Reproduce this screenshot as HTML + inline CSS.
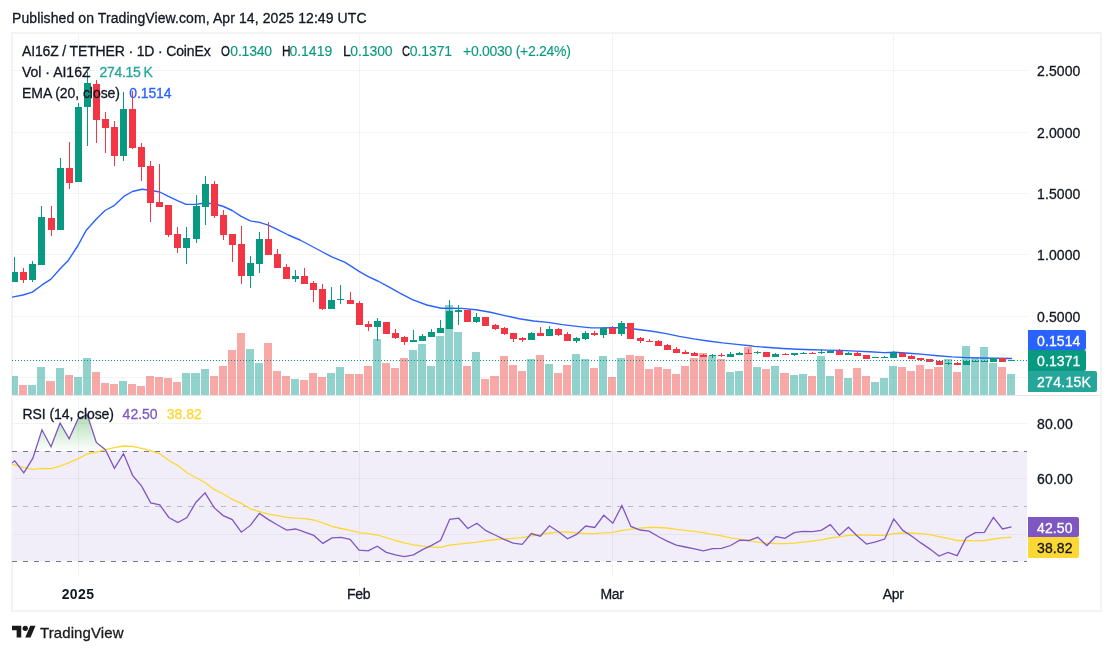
<!DOCTYPE html>
<html><head><meta charset="utf-8"><title>AI16Z / TETHER chart</title>
<style>
html,body{margin:0;padding:0;background:#fff}
#c{position:relative;width:1113px;height:653px;overflow:hidden;background:#fff;font-family:"Liberation Sans",sans-serif}
#t{position:absolute;left:0;top:0;width:1113px;height:653px;will-change:transform}
#c span{position:absolute;white-space:pre;line-height:1.149;-webkit-text-stroke:0.3px currentColor}
</style></head><body><div id="c">
<svg width="1113" height="653" viewBox="0 0 1113 653" style="position:absolute;left:0;top:0">
<defs><linearGradient id="ob" gradientUnits="userSpaceOnUse" x1="0" y1="369" x2="0" y2="451.5"><stop offset="0" stop-color="#4caf50" stop-opacity="1"/><stop offset="1" stop-color="#4caf50" stop-opacity="0"/></linearGradient>
<clipPath id="cm"><rect x="12" y="34" width="1015" height="361"/></clipPath><clipPath id="cr"><rect x="12" y="396" width="1015" height="181"/></clipPath><clipPath id="c70"><rect x="12" y="396" width="1015" height="55.5"/></clipPath></defs>
<g shape-rendering="crispEdges">
<rect x="12" y="33" width="1089" height="578" fill="none" stroke="#f3f3f3" stroke-width="2"/>
<rect x="13" y="451" width="1014" height="110" fill="#f2eef9"/>
<rect x="78" y="34" width="1" height="543" fill="rgba(42,46,57,0.06)"/>
<rect x="359" y="34" width="1" height="543" fill="rgba(42,46,57,0.06)"/>
<rect x="612" y="34" width="1" height="543" fill="rgba(42,46,57,0.06)"/>
<rect x="893" y="34" width="1" height="543" fill="rgba(42,46,57,0.06)"/>
<rect x="13" y="70" width="1014" height="1" fill="rgba(42,46,57,0.06)"/>
<rect x="13" y="132" width="1014" height="1" fill="rgba(42,46,57,0.06)"/>
<rect x="13" y="193" width="1014" height="1" fill="rgba(42,46,57,0.06)"/>
<rect x="13" y="254" width="1014" height="1" fill="rgba(42,46,57,0.06)"/>
<rect x="13" y="316" width="1014" height="1" fill="rgba(42,46,57,0.06)"/>
<rect x="13" y="377" width="1014" height="1" fill="rgba(42,46,57,0.06)"/>
<rect x="13" y="423" width="1014" height="1" fill="rgba(42,46,57,0.06)"/>
<rect x="13" y="478" width="1014" height="1" fill="rgba(42,46,57,0.06)"/>
<rect x="13" y="534" width="1014" height="1" fill="rgba(42,46,57,0.06)"/>
<rect x="13" y="395" width="1087" height="1" fill="#e4e5e8"/>
</g>
<g shape-rendering="crispEdges" clip-path="url(#cm)">
<rect x="10" y="376" width="8" height="19" fill="rgba(38,166,154,0.5)"/>
<rect x="19" y="385" width="8" height="10" fill="rgba(239,83,80,0.5)"/>
<rect x="28" y="385" width="8" height="10" fill="rgba(38,166,154,0.5)"/>
<rect x="37" y="367" width="8" height="28" fill="rgba(38,166,154,0.5)"/>
<rect x="46" y="381" width="9" height="14" fill="rgba(239,83,80,0.5)"/>
<rect x="56" y="368" width="8" height="27" fill="rgba(38,166,154,0.5)"/>
<rect x="65" y="375" width="8" height="20" fill="rgba(239,83,80,0.5)"/>
<rect x="74" y="377" width="8" height="18" fill="rgba(38,166,154,0.5)"/>
<rect x="83" y="358" width="8" height="37" fill="rgba(38,166,154,0.5)"/>
<rect x="92" y="372" width="8" height="23" fill="rgba(239,83,80,0.5)"/>
<rect x="101" y="383" width="8" height="12" fill="rgba(239,83,80,0.5)"/>
<rect x="110" y="384" width="8" height="11" fill="rgba(239,83,80,0.5)"/>
<rect x="119" y="381" width="8" height="14" fill="rgba(38,166,154,0.5)"/>
<rect x="128" y="384" width="8" height="11" fill="rgba(239,83,80,0.5)"/>
<rect x="137" y="386" width="8" height="9" fill="rgba(239,83,80,0.5)"/>
<rect x="146" y="376" width="8" height="19" fill="rgba(239,83,80,0.5)"/>
<rect x="155" y="377" width="8" height="18" fill="rgba(239,83,80,0.5)"/>
<rect x="164" y="378" width="8" height="17" fill="rgba(239,83,80,0.5)"/>
<rect x="173" y="382" width="8" height="13" fill="rgba(239,83,80,0.5)"/>
<rect x="182" y="373" width="8" height="22" fill="rgba(38,166,154,0.5)"/>
<rect x="191" y="373" width="9" height="22" fill="rgba(38,166,154,0.5)"/>
<rect x="201" y="369" width="8" height="26" fill="rgba(38,166,154,0.5)"/>
<rect x="210" y="376" width="8" height="19" fill="rgba(239,83,80,0.5)"/>
<rect x="219" y="366" width="8" height="29" fill="rgba(239,83,80,0.5)"/>
<rect x="228" y="350" width="8" height="45" fill="rgba(239,83,80,0.5)"/>
<rect x="237" y="333" width="8" height="62" fill="rgba(239,83,80,0.5)"/>
<rect x="246" y="349" width="8" height="46" fill="rgba(38,166,154,0.5)"/>
<rect x="255" y="363" width="8" height="32" fill="rgba(38,166,154,0.5)"/>
<rect x="264" y="343" width="8" height="52" fill="rgba(239,83,80,0.5)"/>
<rect x="273" y="371" width="8" height="24" fill="rgba(239,83,80,0.5)"/>
<rect x="282" y="376" width="8" height="19" fill="rgba(239,83,80,0.5)"/>
<rect x="291" y="379" width="8" height="16" fill="rgba(38,166,154,0.5)"/>
<rect x="300" y="380" width="8" height="15" fill="rgba(239,83,80,0.5)"/>
<rect x="309" y="373" width="8" height="22" fill="rgba(239,83,80,0.5)"/>
<rect x="318" y="377" width="8" height="18" fill="rgba(239,83,80,0.5)"/>
<rect x="327" y="373" width="8" height="22" fill="rgba(38,166,154,0.5)"/>
<rect x="336" y="367" width="8" height="28" fill="rgba(38,166,154,0.5)"/>
<rect x="345" y="374" width="9" height="21" fill="rgba(239,83,80,0.5)"/>
<rect x="355" y="374" width="8" height="21" fill="rgba(239,83,80,0.5)"/>
<rect x="364" y="366" width="8" height="29" fill="rgba(239,83,80,0.5)"/>
<rect x="373" y="339" width="8" height="56" fill="rgba(38,166,154,0.5)"/>
<rect x="382" y="363" width="8" height="32" fill="rgba(239,83,80,0.5)"/>
<rect x="391" y="368" width="8" height="27" fill="rgba(239,83,80,0.5)"/>
<rect x="400" y="358" width="8" height="37" fill="rgba(239,83,80,0.5)"/>
<rect x="409" y="350" width="8" height="45" fill="rgba(38,166,154,0.5)"/>
<rect x="418" y="344" width="8" height="51" fill="rgba(38,166,154,0.5)"/>
<rect x="427" y="366" width="8" height="29" fill="rgba(38,166,154,0.5)"/>
<rect x="436" y="336" width="8" height="59" fill="rgba(38,166,154,0.5)"/>
<rect x="445" y="305" width="8" height="90" fill="rgba(38,166,154,0.5)"/>
<rect x="454" y="332" width="8" height="63" fill="rgba(38,166,154,0.5)"/>
<rect x="463" y="366" width="8" height="29" fill="rgba(239,83,80,0.5)"/>
<rect x="472" y="352" width="8" height="43" fill="rgba(38,166,154,0.5)"/>
<rect x="481" y="379" width="8" height="16" fill="rgba(239,83,80,0.5)"/>
<rect x="490" y="376" width="9" height="19" fill="rgba(239,83,80,0.5)"/>
<rect x="500" y="356" width="8" height="39" fill="rgba(239,83,80,0.5)"/>
<rect x="509" y="365" width="8" height="30" fill="rgba(239,83,80,0.5)"/>
<rect x="518" y="371" width="8" height="24" fill="rgba(239,83,80,0.5)"/>
<rect x="527" y="359" width="8" height="36" fill="rgba(38,166,154,0.5)"/>
<rect x="536" y="355" width="8" height="40" fill="rgba(239,83,80,0.5)"/>
<rect x="545" y="364" width="8" height="31" fill="rgba(38,166,154,0.5)"/>
<rect x="554" y="373" width="8" height="22" fill="rgba(239,83,80,0.5)"/>
<rect x="563" y="365" width="8" height="30" fill="rgba(239,83,80,0.5)"/>
<rect x="572" y="354" width="8" height="41" fill="rgba(38,166,154,0.5)"/>
<rect x="581" y="359" width="8" height="36" fill="rgba(38,166,154,0.5)"/>
<rect x="590" y="368" width="8" height="27" fill="rgba(239,83,80,0.5)"/>
<rect x="599" y="356" width="8" height="39" fill="rgba(38,166,154,0.5)"/>
<rect x="608" y="377" width="8" height="18" fill="rgba(239,83,80,0.5)"/>
<rect x="617" y="358" width="8" height="37" fill="rgba(38,166,154,0.5)"/>
<rect x="626" y="355" width="8" height="40" fill="rgba(239,83,80,0.5)"/>
<rect x="635" y="356" width="9" height="39" fill="rgba(239,83,80,0.5)"/>
<rect x="645" y="369" width="8" height="26" fill="rgba(239,83,80,0.5)"/>
<rect x="654" y="367" width="8" height="28" fill="rgba(239,83,80,0.5)"/>
<rect x="663" y="369" width="8" height="26" fill="rgba(239,83,80,0.5)"/>
<rect x="672" y="374" width="8" height="21" fill="rgba(239,83,80,0.5)"/>
<rect x="681" y="366" width="8" height="29" fill="rgba(239,83,80,0.5)"/>
<rect x="690" y="358" width="8" height="37" fill="rgba(239,83,80,0.5)"/>
<rect x="699" y="353" width="8" height="42" fill="rgba(239,83,80,0.5)"/>
<rect x="708" y="356" width="8" height="39" fill="rgba(38,166,154,0.5)"/>
<rect x="717" y="359" width="8" height="36" fill="rgba(239,83,80,0.5)"/>
<rect x="726" y="372" width="8" height="23" fill="rgba(38,166,154,0.5)"/>
<rect x="735" y="371" width="8" height="24" fill="rgba(38,166,154,0.5)"/>
<rect x="744" y="347" width="8" height="48" fill="rgba(239,83,80,0.5)"/>
<rect x="753" y="367" width="8" height="28" fill="rgba(38,166,154,0.5)"/>
<rect x="762" y="369" width="8" height="26" fill="rgba(239,83,80,0.5)"/>
<rect x="771" y="366" width="8" height="29" fill="rgba(38,166,154,0.5)"/>
<rect x="780" y="373" width="9" height="22" fill="rgba(239,83,80,0.5)"/>
<rect x="790" y="375" width="8" height="20" fill="rgba(38,166,154,0.5)"/>
<rect x="799" y="374" width="8" height="21" fill="rgba(38,166,154,0.5)"/>
<rect x="808" y="376" width="8" height="19" fill="rgba(239,83,80,0.5)"/>
<rect x="817" y="356" width="8" height="39" fill="rgba(38,166,154,0.5)"/>
<rect x="826" y="376" width="8" height="19" fill="rgba(38,166,154,0.5)"/>
<rect x="835" y="369" width="8" height="26" fill="rgba(239,83,80,0.5)"/>
<rect x="844" y="378" width="8" height="17" fill="rgba(38,166,154,0.5)"/>
<rect x="853" y="368" width="8" height="27" fill="rgba(239,83,80,0.5)"/>
<rect x="862" y="376" width="8" height="19" fill="rgba(239,83,80,0.5)"/>
<rect x="871" y="382" width="8" height="13" fill="rgba(38,166,154,0.5)"/>
<rect x="880" y="378" width="8" height="17" fill="rgba(38,166,154,0.5)"/>
<rect x="889" y="366" width="8" height="29" fill="rgba(38,166,154,0.5)"/>
<rect x="898" y="367" width="8" height="28" fill="rgba(239,83,80,0.5)"/>
<rect x="907" y="371" width="8" height="24" fill="rgba(239,83,80,0.5)"/>
<rect x="916" y="365" width="8" height="30" fill="rgba(239,83,80,0.5)"/>
<rect x="925" y="369" width="8" height="26" fill="rgba(239,83,80,0.5)"/>
<rect x="934" y="367" width="9" height="28" fill="rgba(239,83,80,0.5)"/>
<rect x="944" y="359" width="8" height="36" fill="rgba(38,166,154,0.5)"/>
<rect x="953" y="372" width="8" height="23" fill="rgba(239,83,80,0.5)"/>
<rect x="962" y="346" width="8" height="49" fill="rgba(38,166,154,0.5)"/>
<rect x="971" y="358" width="8" height="37" fill="rgba(38,166,154,0.5)"/>
<rect x="980" y="347" width="8" height="48" fill="rgba(38,166,154,0.5)"/>
<rect x="989" y="363" width="8" height="32" fill="rgba(38,166,154,0.5)"/>
<rect x="998" y="367" width="8" height="28" fill="rgba(239,83,80,0.5)"/>
<rect x="1007" y="374" width="8" height="21" fill="rgba(38,166,154,0.5)"/>
</g>
<polyline points="12,297.1 23,295 32.3,292.1 41.7,285.2 51,279.1 59.7,269.3 68.3,260.4 77.7,246 86.3,230.2 96.4,219 105,210.5 113.7,205.9 123.8,196.4 132.4,191.5 141.8,189.2 150.5,190.3 159.8,192 168.4,196.4 177.4,200.7 186.1,204.4 196.2,204.4 204.8,203 214.9,204 223.5,206.5 232.2,210.5 240.8,216.2 250.2,220.9 259.5,222.4 268.2,225.2 278.2,229.9 288.3,235 300,240 318.8,250 331.8,256.9 344.7,262.2 359.1,271.3 367.8,276.4 377.8,281 387.9,286.4 399.4,292.9 412.4,299.7 426.8,305 441.2,308.3 450,308.3 461.6,308.4 476,309.7 490.4,312.3 504.8,315.6 519.2,318.8 533.6,321 548,322.4 562.4,324.6 576.8,326.4 591.2,327.9 600,327.9 611.6,327.8 626,327.8 636.1,329.2 650.5,331 664.9,333.4 679.3,336.4 693.7,338.9 708.1,341 722.5,342.9 736.9,344.4 750,345.8 754.4,346.4 768.8,347.5 783.2,348.5 797.6,349.3 812,349.8 826.4,350.1 840.8,350.4 855.2,351.1 869.6,351.8 884,352.6 894.4,352.3 908.8,353.3 923.2,354.4 937.6,355.7 952,356.9 966.4,357.6 980.8,358 995.2,358.3 1011.5,358.5" fill="none" stroke="#2962ff" stroke-width="1.4" stroke-linejoin="round" stroke-linecap="round" clip-path="url(#cm)"/>
<g shape-rendering="crispEdges" clip-path="url(#cm)">
<rect x="14" y="257" width="1" height="25" fill="#089981"/><rect x="11" y="272" width="7" height="10" fill="#089981"/>
<rect x="23" y="268" width="1" height="15" fill="#f23645"/><rect x="20" y="272" width="7" height="8" fill="#f23645"/>
<rect x="32" y="261" width="1" height="21" fill="#089981"/><rect x="29" y="264" width="7" height="16" fill="#089981"/>
<rect x="41" y="206" width="1" height="59" fill="#089981"/><rect x="38" y="217" width="7" height="48" fill="#089981"/>
<rect x="51" y="206" width="1" height="30" fill="#f23645"/><rect x="48" y="218" width="7" height="12" fill="#f23645"/>
<rect x="60" y="158" width="1" height="72" fill="#089981"/><rect x="57" y="168" width="7" height="62" fill="#089981"/>
<rect x="69" y="142" width="1" height="47" fill="#f23645"/><rect x="66" y="168" width="7" height="15" fill="#f23645"/>
<rect x="78" y="103" width="1" height="79" fill="#089981"/><rect x="75" y="107" width="7" height="75" fill="#089981"/>
<rect x="87" y="72" width="1" height="74" fill="#089981"/><rect x="84" y="83" width="7" height="24" fill="#089981"/>
<rect x="96" y="80" width="1" height="63" fill="#f23645"/><rect x="93" y="84" width="7" height="36" fill="#f23645"/>
<rect x="105" y="112" width="1" height="41" fill="#f23645"/><rect x="102" y="119" width="7" height="9" fill="#f23645"/>
<rect x="114" y="121" width="1" height="45" fill="#f23645"/><rect x="111" y="127" width="7" height="29" fill="#f23645"/>
<rect x="123" y="92" width="1" height="69" fill="#089981"/><rect x="120" y="109" width="7" height="47" fill="#089981"/>
<rect x="132" y="91" width="1" height="58" fill="#f23645"/><rect x="129" y="109" width="7" height="39" fill="#f23645"/>
<rect x="141" y="143" width="1" height="38" fill="#f23645"/><rect x="138" y="147" width="7" height="20" fill="#f23645"/>
<rect x="150" y="161" width="1" height="61" fill="#f23645"/><rect x="147" y="166" width="7" height="37" fill="#f23645"/>
<rect x="159" y="164" width="1" height="43" fill="#f23645"/><rect x="156" y="202" width="7" height="5" fill="#f23645"/>
<rect x="168" y="205" width="1" height="32" fill="#f23645"/><rect x="165" y="205" width="7" height="30" fill="#f23645"/>
<rect x="177" y="227" width="1" height="26" fill="#f23645"/><rect x="174" y="234" width="7" height="14" fill="#f23645"/>
<rect x="186" y="227" width="1" height="37" fill="#089981"/><rect x="183" y="238" width="7" height="10" fill="#089981"/>
<rect x="196" y="195" width="1" height="48" fill="#089981"/><rect x="193" y="206" width="7" height="33" fill="#089981"/>
<rect x="205" y="176" width="1" height="49" fill="#089981"/><rect x="202" y="184" width="7" height="23" fill="#089981"/>
<rect x="214" y="181" width="1" height="37" fill="#f23645"/><rect x="211" y="184" width="7" height="32" fill="#f23645"/>
<rect x="223" y="210" width="1" height="30" fill="#f23645"/><rect x="220" y="215" width="7" height="20" fill="#f23645"/>
<rect x="232" y="234" width="1" height="28" fill="#f23645"/><rect x="229" y="234" width="7" height="11" fill="#f23645"/>
<rect x="241" y="226" width="1" height="58" fill="#f23645"/><rect x="238" y="244" width="7" height="32" fill="#f23645"/>
<rect x="250" y="256" width="1" height="32" fill="#089981"/><rect x="247" y="263" width="7" height="13" fill="#089981"/>
<rect x="259" y="232" width="1" height="41" fill="#089981"/><rect x="256" y="239" width="7" height="25" fill="#089981"/>
<rect x="268" y="222" width="1" height="33" fill="#f23645"/><rect x="265" y="239" width="7" height="16" fill="#f23645"/>
<rect x="277" y="249" width="1" height="19" fill="#f23645"/><rect x="274" y="254" width="7" height="14" fill="#f23645"/>
<rect x="286" y="264" width="1" height="15" fill="#f23645"/><rect x="283" y="267" width="7" height="12" fill="#f23645"/>
<rect x="295" y="270" width="1" height="12" fill="#089981"/><rect x="292" y="276" width="7" height="3" fill="#089981"/>
<rect x="304" y="268" width="1" height="16" fill="#f23645"/><rect x="301" y="276" width="7" height="8" fill="#f23645"/>
<rect x="313" y="281" width="1" height="21" fill="#f23645"/><rect x="310" y="283" width="7" height="7" fill="#f23645"/>
<rect x="322" y="284" width="1" height="26" fill="#f23645"/><rect x="319" y="289" width="7" height="20" fill="#f23645"/>
<rect x="331" y="287" width="1" height="22" fill="#089981"/><rect x="328" y="300" width="7" height="9" fill="#089981"/>
<rect x="340" y="285" width="1" height="19" fill="#089981"/><rect x="337" y="299" width="7" height="1" fill="#089981"/>
<rect x="350" y="292" width="1" height="12" fill="#f23645"/><rect x="347" y="300" width="7" height="4" fill="#f23645"/>
<rect x="359" y="301" width="1" height="24" fill="#f23645"/><rect x="356" y="303" width="7" height="22" fill="#f23645"/>
<rect x="368" y="321" width="1" height="10" fill="#f23645"/><rect x="365" y="324" width="7" height="3" fill="#f23645"/>
<rect x="377" y="318" width="1" height="23" fill="#089981"/><rect x="374" y="321" width="7" height="6" fill="#089981"/>
<rect x="386" y="322" width="1" height="12" fill="#f23645"/><rect x="383" y="322" width="7" height="12" fill="#f23645"/>
<rect x="395" y="329" width="1" height="10" fill="#f23645"/><rect x="392" y="333" width="7" height="5" fill="#f23645"/>
<rect x="404" y="336" width="1" height="9" fill="#f23645"/><rect x="401" y="337" width="7" height="5" fill="#f23645"/>
<rect x="413" y="330" width="1" height="12" fill="#089981"/><rect x="410" y="340" width="7" height="2" fill="#089981"/>
<rect x="422" y="334" width="1" height="7" fill="#089981"/><rect x="419" y="336" width="7" height="5" fill="#089981"/>
<rect x="431" y="329" width="1" height="8" fill="#089981"/><rect x="428" y="332" width="7" height="5" fill="#089981"/>
<rect x="440" y="320" width="1" height="13" fill="#089981"/><rect x="437" y="328" width="7" height="5" fill="#089981"/>
<rect x="449" y="300" width="1" height="29" fill="#089981"/><rect x="446" y="311" width="7" height="18" fill="#089981"/>
<rect x="458" y="305" width="1" height="20" fill="#089981"/><rect x="455" y="310" width="7" height="2" fill="#089981"/>
<rect x="467" y="310" width="1" height="12" fill="#f23645"/><rect x="464" y="310" width="7" height="12" fill="#f23645"/>
<rect x="476" y="313" width="1" height="10" fill="#089981"/><rect x="473" y="317" width="7" height="5" fill="#089981"/>
<rect x="485" y="317" width="1" height="9" fill="#f23645"/><rect x="482" y="317" width="7" height="9" fill="#f23645"/>
<rect x="495" y="324" width="1" height="6" fill="#f23645"/><rect x="492" y="325" width="7" height="4" fill="#f23645"/>
<rect x="504" y="327" width="1" height="8" fill="#f23645"/><rect x="501" y="328" width="7" height="6" fill="#f23645"/>
<rect x="513" y="333" width="1" height="9" fill="#f23645"/><rect x="510" y="333" width="7" height="6" fill="#f23645"/>
<rect x="522" y="337" width="1" height="5" fill="#f23645"/><rect x="519" y="338" width="7" height="2" fill="#f23645"/>
<rect x="531" y="332" width="1" height="8" fill="#089981"/><rect x="528" y="333" width="7" height="7" fill="#089981"/>
<rect x="540" y="327" width="1" height="9" fill="#f23645"/><rect x="537" y="333" width="7" height="3" fill="#f23645"/>
<rect x="549" y="326" width="1" height="10" fill="#089981"/><rect x="546" y="329" width="7" height="7" fill="#089981"/>
<rect x="558" y="328" width="1" height="8" fill="#f23645"/><rect x="555" y="329" width="7" height="6" fill="#f23645"/>
<rect x="567" y="332" width="1" height="9" fill="#f23645"/><rect x="564" y="334" width="7" height="7" fill="#f23645"/>
<rect x="576" y="337" width="1" height="6" fill="#089981"/><rect x="573" y="338" width="7" height="3" fill="#089981"/>
<rect x="585" y="331" width="1" height="9" fill="#089981"/><rect x="582" y="333" width="7" height="6" fill="#089981"/>
<rect x="594" y="331" width="1" height="5" fill="#f23645"/><rect x="591" y="333" width="7" height="2" fill="#f23645"/>
<rect x="603" y="327" width="1" height="11" fill="#089981"/><rect x="600" y="328" width="7" height="7" fill="#089981"/>
<rect x="612" y="326" width="1" height="8" fill="#f23645"/><rect x="609" y="328" width="7" height="6" fill="#f23645"/>
<rect x="621" y="321" width="1" height="15" fill="#089981"/><rect x="618" y="323" width="7" height="11" fill="#089981"/>
<rect x="630" y="323" width="1" height="16" fill="#f23645"/><rect x="627" y="323" width="7" height="16" fill="#f23645"/>
<rect x="640" y="337" width="1" height="6" fill="#f23645"/><rect x="637" y="338" width="7" height="3" fill="#f23645"/>
<rect x="649" y="339" width="1" height="3" fill="#f23645"/><rect x="646" y="341" width="7" height="1" fill="#f23645"/>
<rect x="658" y="340" width="1" height="6" fill="#f23645"/><rect x="655" y="341" width="7" height="5" fill="#f23645"/>
<rect x="667" y="344" width="1" height="6" fill="#f23645"/><rect x="664" y="345" width="7" height="5" fill="#f23645"/>
<rect x="676" y="347" width="1" height="6" fill="#f23645"/><rect x="673" y="349" width="7" height="4" fill="#f23645"/>
<rect x="685" y="350" width="1" height="4" fill="#f23645"/><rect x="682" y="352" width="7" height="2" fill="#f23645"/>
<rect x="694" y="352" width="1" height="4" fill="#f23645"/><rect x="691" y="353" width="7" height="3" fill="#f23645"/>
<rect x="703" y="354" width="1" height="3" fill="#f23645"/><rect x="700" y="355" width="7" height="2" fill="#f23645"/>
<rect x="712" y="354" width="1" height="4" fill="#089981"/><rect x="709" y="355" width="7" height="1" fill="#089981"/>
<rect x="721" y="353" width="1" height="4" fill="#f23645"/><rect x="718" y="355" width="7" height="1" fill="#f23645"/>
<rect x="730" y="352" width="1" height="5" fill="#089981"/><rect x="727" y="354" width="7" height="3" fill="#089981"/>
<rect x="739" y="352" width="1" height="3" fill="#089981"/><rect x="736" y="353" width="7" height="2" fill="#089981"/>
<rect x="748" y="349" width="1" height="5" fill="#f23645"/><rect x="745" y="353" width="7" height="1" fill="#f23645"/>
<rect x="757" y="351" width="1" height="3" fill="#089981"/><rect x="754" y="352" width="7" height="1" fill="#089981"/>
<rect x="766" y="352" width="1" height="5" fill="#f23645"/><rect x="763" y="352" width="7" height="5" fill="#f23645"/>
<rect x="775" y="353" width="1" height="4" fill="#089981"/><rect x="772" y="354" width="7" height="3" fill="#089981"/>
<rect x="785" y="353" width="1" height="2" fill="#f23645"/><rect x="782" y="354" width="7" height="1" fill="#f23645"/>
<rect x="794" y="353" width="1" height="3" fill="#089981"/><rect x="791" y="353" width="7" height="2" fill="#089981"/>
<rect x="803" y="352" width="1" height="2" fill="#089981"/><rect x="800" y="353" width="7" height="1" fill="#089981"/>
<rect x="812" y="352" width="1" height="2" fill="#f23645"/><rect x="809" y="353" width="7" height="1" fill="#f23645"/>
<rect x="821" y="349" width="1" height="5" fill="#089981"/><rect x="818" y="352" width="7" height="1" fill="#089981"/>
<rect x="830" y="350" width="1" height="3" fill="#089981"/><rect x="827" y="351" width="7" height="2" fill="#089981"/>
<rect x="839" y="349" width="1" height="6" fill="#f23645"/><rect x="836" y="351" width="7" height="4" fill="#f23645"/>
<rect x="848" y="352" width="1" height="3" fill="#089981"/><rect x="845" y="353" width="7" height="2" fill="#089981"/>
<rect x="857" y="351" width="1" height="5" fill="#f23645"/><rect x="854" y="353" width="7" height="3" fill="#f23645"/>
<rect x="866" y="355" width="1" height="4" fill="#f23645"/><rect x="863" y="355" width="7" height="4" fill="#f23645"/>
<rect x="875" y="357" width="1" height="1" fill="#089981"/><rect x="872" y="357" width="7" height="1" fill="#089981"/>
<rect x="884" y="356" width="1" height="2" fill="#089981"/><rect x="881" y="357" width="7" height="1" fill="#089981"/>
<rect x="893" y="351" width="1" height="7" fill="#089981"/><rect x="890" y="353" width="7" height="5" fill="#089981"/>
<rect x="902" y="353" width="1" height="4" fill="#f23645"/><rect x="899" y="353" width="7" height="4" fill="#f23645"/>
<rect x="911" y="355" width="1" height="4" fill="#f23645"/><rect x="908" y="356" width="7" height="3" fill="#f23645"/>
<rect x="920" y="358" width="1" height="3" fill="#f23645"/><rect x="917" y="358" width="7" height="2" fill="#f23645"/>
<rect x="929" y="359" width="1" height="3" fill="#f23645"/><rect x="926" y="359" width="7" height="3" fill="#f23645"/>
<rect x="939" y="360" width="1" height="5" fill="#f23645"/><rect x="936" y="361" width="7" height="4" fill="#f23645"/>
<rect x="948" y="362" width="1" height="3" fill="#089981"/><rect x="945" y="363" width="7" height="1" fill="#089981"/>
<rect x="957" y="362" width="1" height="3" fill="#f23645"/><rect x="954" y="363" width="7" height="2" fill="#f23645"/>
<rect x="966" y="361" width="1" height="4" fill="#089981"/><rect x="963" y="361" width="7" height="4" fill="#089981"/>
<rect x="975" y="361" width="1" height="1" fill="#089981"/><rect x="972" y="361" width="7" height="1" fill="#089981"/>
<rect x="984" y="361" width="1" height="1" fill="#089981"/><rect x="981" y="361" width="7" height="1" fill="#089981"/>
<rect x="993" y="358" width="1" height="4" fill="#089981"/><rect x="990" y="358" width="7" height="4" fill="#089981"/>
<rect x="1002" y="358" width="1" height="4" fill="#f23645"/><rect x="999" y="358" width="7" height="4" fill="#f23645"/>
<rect x="1011" y="360" width="1" height="1" fill="#089981"/><rect x="1008" y="360" width="7" height="1" fill="#089981"/>
</g>
<g shape-rendering="crispEdges">
<g fill="#089981"><rect x="12" y="360" width="1" height="1"/><rect x="15" y="360" width="1" height="1"/><rect x="18" y="360" width="1" height="1"/><rect x="21" y="360" width="1" height="1"/><rect x="24" y="360" width="1" height="1"/><rect x="27" y="360" width="1" height="1"/><rect x="30" y="360" width="1" height="1"/><rect x="33" y="360" width="1" height="1"/><rect x="36" y="360" width="1" height="1"/><rect x="39" y="360" width="1" height="1"/><rect x="42" y="360" width="1" height="1"/><rect x="45" y="360" width="1" height="1"/><rect x="48" y="360" width="1" height="1"/><rect x="51" y="360" width="1" height="1"/><rect x="54" y="360" width="1" height="1"/><rect x="57" y="360" width="1" height="1"/><rect x="60" y="360" width="1" height="1"/><rect x="63" y="360" width="1" height="1"/><rect x="66" y="360" width="1" height="1"/><rect x="69" y="360" width="1" height="1"/><rect x="72" y="360" width="1" height="1"/><rect x="75" y="360" width="1" height="1"/><rect x="78" y="360" width="1" height="1"/><rect x="81" y="360" width="1" height="1"/><rect x="84" y="360" width="1" height="1"/><rect x="87" y="360" width="1" height="1"/><rect x="90" y="360" width="1" height="1"/><rect x="93" y="360" width="1" height="1"/><rect x="96" y="360" width="1" height="1"/><rect x="99" y="360" width="1" height="1"/><rect x="102" y="360" width="1" height="1"/><rect x="105" y="360" width="1" height="1"/><rect x="108" y="360" width="1" height="1"/><rect x="111" y="360" width="1" height="1"/><rect x="114" y="360" width="1" height="1"/><rect x="117" y="360" width="1" height="1"/><rect x="120" y="360" width="1" height="1"/><rect x="123" y="360" width="1" height="1"/><rect x="126" y="360" width="1" height="1"/><rect x="129" y="360" width="1" height="1"/><rect x="132" y="360" width="1" height="1"/><rect x="135" y="360" width="1" height="1"/><rect x="138" y="360" width="1" height="1"/><rect x="141" y="360" width="1" height="1"/><rect x="144" y="360" width="1" height="1"/><rect x="147" y="360" width="1" height="1"/><rect x="150" y="360" width="1" height="1"/><rect x="153" y="360" width="1" height="1"/><rect x="156" y="360" width="1" height="1"/><rect x="159" y="360" width="1" height="1"/><rect x="162" y="360" width="1" height="1"/><rect x="165" y="360" width="1" height="1"/><rect x="168" y="360" width="1" height="1"/><rect x="171" y="360" width="1" height="1"/><rect x="174" y="360" width="1" height="1"/><rect x="177" y="360" width="1" height="1"/><rect x="180" y="360" width="1" height="1"/><rect x="183" y="360" width="1" height="1"/><rect x="186" y="360" width="1" height="1"/><rect x="189" y="360" width="1" height="1"/><rect x="192" y="360" width="1" height="1"/><rect x="195" y="360" width="1" height="1"/><rect x="198" y="360" width="1" height="1"/><rect x="201" y="360" width="1" height="1"/><rect x="204" y="360" width="1" height="1"/><rect x="207" y="360" width="1" height="1"/><rect x="210" y="360" width="1" height="1"/><rect x="213" y="360" width="1" height="1"/><rect x="216" y="360" width="1" height="1"/><rect x="219" y="360" width="1" height="1"/><rect x="222" y="360" width="1" height="1"/><rect x="225" y="360" width="1" height="1"/><rect x="228" y="360" width="1" height="1"/><rect x="231" y="360" width="1" height="1"/><rect x="234" y="360" width="1" height="1"/><rect x="237" y="360" width="1" height="1"/><rect x="240" y="360" width="1" height="1"/><rect x="243" y="360" width="1" height="1"/><rect x="246" y="360" width="1" height="1"/><rect x="249" y="360" width="1" height="1"/><rect x="252" y="360" width="1" height="1"/><rect x="255" y="360" width="1" height="1"/><rect x="258" y="360" width="1" height="1"/><rect x="261" y="360" width="1" height="1"/><rect x="264" y="360" width="1" height="1"/><rect x="267" y="360" width="1" height="1"/><rect x="270" y="360" width="1" height="1"/><rect x="273" y="360" width="1" height="1"/><rect x="276" y="360" width="1" height="1"/><rect x="279" y="360" width="1" height="1"/><rect x="282" y="360" width="1" height="1"/><rect x="285" y="360" width="1" height="1"/><rect x="288" y="360" width="1" height="1"/><rect x="291" y="360" width="1" height="1"/><rect x="294" y="360" width="1" height="1"/><rect x="297" y="360" width="1" height="1"/><rect x="300" y="360" width="1" height="1"/><rect x="303" y="360" width="1" height="1"/><rect x="306" y="360" width="1" height="1"/><rect x="309" y="360" width="1" height="1"/><rect x="312" y="360" width="1" height="1"/><rect x="315" y="360" width="1" height="1"/><rect x="318" y="360" width="1" height="1"/><rect x="321" y="360" width="1" height="1"/><rect x="324" y="360" width="1" height="1"/><rect x="327" y="360" width="1" height="1"/><rect x="330" y="360" width="1" height="1"/><rect x="333" y="360" width="1" height="1"/><rect x="336" y="360" width="1" height="1"/><rect x="339" y="360" width="1" height="1"/><rect x="342" y="360" width="1" height="1"/><rect x="345" y="360" width="1" height="1"/><rect x="348" y="360" width="1" height="1"/><rect x="351" y="360" width="1" height="1"/><rect x="354" y="360" width="1" height="1"/><rect x="357" y="360" width="1" height="1"/><rect x="360" y="360" width="1" height="1"/><rect x="363" y="360" width="1" height="1"/><rect x="366" y="360" width="1" height="1"/><rect x="369" y="360" width="1" height="1"/><rect x="372" y="360" width="1" height="1"/><rect x="375" y="360" width="1" height="1"/><rect x="378" y="360" width="1" height="1"/><rect x="381" y="360" width="1" height="1"/><rect x="384" y="360" width="1" height="1"/><rect x="387" y="360" width="1" height="1"/><rect x="390" y="360" width="1" height="1"/><rect x="393" y="360" width="1" height="1"/><rect x="396" y="360" width="1" height="1"/><rect x="399" y="360" width="1" height="1"/><rect x="402" y="360" width="1" height="1"/><rect x="405" y="360" width="1" height="1"/><rect x="408" y="360" width="1" height="1"/><rect x="411" y="360" width="1" height="1"/><rect x="414" y="360" width="1" height="1"/><rect x="417" y="360" width="1" height="1"/><rect x="420" y="360" width="1" height="1"/><rect x="423" y="360" width="1" height="1"/><rect x="426" y="360" width="1" height="1"/><rect x="429" y="360" width="1" height="1"/><rect x="432" y="360" width="1" height="1"/><rect x="435" y="360" width="1" height="1"/><rect x="438" y="360" width="1" height="1"/><rect x="441" y="360" width="1" height="1"/><rect x="444" y="360" width="1" height="1"/><rect x="447" y="360" width="1" height="1"/><rect x="450" y="360" width="1" height="1"/><rect x="453" y="360" width="1" height="1"/><rect x="456" y="360" width="1" height="1"/><rect x="459" y="360" width="1" height="1"/><rect x="462" y="360" width="1" height="1"/><rect x="465" y="360" width="1" height="1"/><rect x="468" y="360" width="1" height="1"/><rect x="471" y="360" width="1" height="1"/><rect x="474" y="360" width="1" height="1"/><rect x="477" y="360" width="1" height="1"/><rect x="480" y="360" width="1" height="1"/><rect x="483" y="360" width="1" height="1"/><rect x="486" y="360" width="1" height="1"/><rect x="489" y="360" width="1" height="1"/><rect x="492" y="360" width="1" height="1"/><rect x="495" y="360" width="1" height="1"/><rect x="498" y="360" width="1" height="1"/><rect x="501" y="360" width="1" height="1"/><rect x="504" y="360" width="1" height="1"/><rect x="507" y="360" width="1" height="1"/><rect x="510" y="360" width="1" height="1"/><rect x="513" y="360" width="1" height="1"/><rect x="516" y="360" width="1" height="1"/><rect x="519" y="360" width="1" height="1"/><rect x="522" y="360" width="1" height="1"/><rect x="525" y="360" width="1" height="1"/><rect x="528" y="360" width="1" height="1"/><rect x="531" y="360" width="1" height="1"/><rect x="534" y="360" width="1" height="1"/><rect x="537" y="360" width="1" height="1"/><rect x="540" y="360" width="1" height="1"/><rect x="543" y="360" width="1" height="1"/><rect x="546" y="360" width="1" height="1"/><rect x="549" y="360" width="1" height="1"/><rect x="552" y="360" width="1" height="1"/><rect x="555" y="360" width="1" height="1"/><rect x="558" y="360" width="1" height="1"/><rect x="561" y="360" width="1" height="1"/><rect x="564" y="360" width="1" height="1"/><rect x="567" y="360" width="1" height="1"/><rect x="570" y="360" width="1" height="1"/><rect x="573" y="360" width="1" height="1"/><rect x="576" y="360" width="1" height="1"/><rect x="579" y="360" width="1" height="1"/><rect x="582" y="360" width="1" height="1"/><rect x="585" y="360" width="1" height="1"/><rect x="588" y="360" width="1" height="1"/><rect x="591" y="360" width="1" height="1"/><rect x="594" y="360" width="1" height="1"/><rect x="597" y="360" width="1" height="1"/><rect x="600" y="360" width="1" height="1"/><rect x="603" y="360" width="1" height="1"/><rect x="606" y="360" width="1" height="1"/><rect x="609" y="360" width="1" height="1"/><rect x="612" y="360" width="1" height="1"/><rect x="615" y="360" width="1" height="1"/><rect x="618" y="360" width="1" height="1"/><rect x="621" y="360" width="1" height="1"/><rect x="624" y="360" width="1" height="1"/><rect x="627" y="360" width="1" height="1"/><rect x="630" y="360" width="1" height="1"/><rect x="633" y="360" width="1" height="1"/><rect x="636" y="360" width="1" height="1"/><rect x="639" y="360" width="1" height="1"/><rect x="642" y="360" width="1" height="1"/><rect x="645" y="360" width="1" height="1"/><rect x="648" y="360" width="1" height="1"/><rect x="651" y="360" width="1" height="1"/><rect x="654" y="360" width="1" height="1"/><rect x="657" y="360" width="1" height="1"/><rect x="660" y="360" width="1" height="1"/><rect x="663" y="360" width="1" height="1"/><rect x="666" y="360" width="1" height="1"/><rect x="669" y="360" width="1" height="1"/><rect x="672" y="360" width="1" height="1"/><rect x="675" y="360" width="1" height="1"/><rect x="678" y="360" width="1" height="1"/><rect x="681" y="360" width="1" height="1"/><rect x="684" y="360" width="1" height="1"/><rect x="687" y="360" width="1" height="1"/><rect x="690" y="360" width="1" height="1"/><rect x="693" y="360" width="1" height="1"/><rect x="696" y="360" width="1" height="1"/><rect x="699" y="360" width="1" height="1"/><rect x="702" y="360" width="1" height="1"/><rect x="705" y="360" width="1" height="1"/><rect x="708" y="360" width="1" height="1"/><rect x="711" y="360" width="1" height="1"/><rect x="714" y="360" width="1" height="1"/><rect x="717" y="360" width="1" height="1"/><rect x="720" y="360" width="1" height="1"/><rect x="723" y="360" width="1" height="1"/><rect x="726" y="360" width="1" height="1"/><rect x="729" y="360" width="1" height="1"/><rect x="732" y="360" width="1" height="1"/><rect x="735" y="360" width="1" height="1"/><rect x="738" y="360" width="1" height="1"/><rect x="741" y="360" width="1" height="1"/><rect x="744" y="360" width="1" height="1"/><rect x="747" y="360" width="1" height="1"/><rect x="750" y="360" width="1" height="1"/><rect x="753" y="360" width="1" height="1"/><rect x="756" y="360" width="1" height="1"/><rect x="759" y="360" width="1" height="1"/><rect x="762" y="360" width="1" height="1"/><rect x="765" y="360" width="1" height="1"/><rect x="768" y="360" width="1" height="1"/><rect x="771" y="360" width="1" height="1"/><rect x="774" y="360" width="1" height="1"/><rect x="777" y="360" width="1" height="1"/><rect x="780" y="360" width="1" height="1"/><rect x="783" y="360" width="1" height="1"/><rect x="786" y="360" width="1" height="1"/><rect x="789" y="360" width="1" height="1"/><rect x="792" y="360" width="1" height="1"/><rect x="795" y="360" width="1" height="1"/><rect x="798" y="360" width="1" height="1"/><rect x="801" y="360" width="1" height="1"/><rect x="804" y="360" width="1" height="1"/><rect x="807" y="360" width="1" height="1"/><rect x="810" y="360" width="1" height="1"/><rect x="813" y="360" width="1" height="1"/><rect x="816" y="360" width="1" height="1"/><rect x="819" y="360" width="1" height="1"/><rect x="822" y="360" width="1" height="1"/><rect x="825" y="360" width="1" height="1"/><rect x="828" y="360" width="1" height="1"/><rect x="831" y="360" width="1" height="1"/><rect x="834" y="360" width="1" height="1"/><rect x="837" y="360" width="1" height="1"/><rect x="840" y="360" width="1" height="1"/><rect x="843" y="360" width="1" height="1"/><rect x="846" y="360" width="1" height="1"/><rect x="849" y="360" width="1" height="1"/><rect x="852" y="360" width="1" height="1"/><rect x="855" y="360" width="1" height="1"/><rect x="858" y="360" width="1" height="1"/><rect x="861" y="360" width="1" height="1"/><rect x="864" y="360" width="1" height="1"/><rect x="867" y="360" width="1" height="1"/><rect x="870" y="360" width="1" height="1"/><rect x="873" y="360" width="1" height="1"/><rect x="876" y="360" width="1" height="1"/><rect x="879" y="360" width="1" height="1"/><rect x="882" y="360" width="1" height="1"/><rect x="885" y="360" width="1" height="1"/><rect x="888" y="360" width="1" height="1"/><rect x="891" y="360" width="1" height="1"/><rect x="894" y="360" width="1" height="1"/><rect x="897" y="360" width="1" height="1"/><rect x="900" y="360" width="1" height="1"/><rect x="903" y="360" width="1" height="1"/><rect x="906" y="360" width="1" height="1"/><rect x="909" y="360" width="1" height="1"/><rect x="912" y="360" width="1" height="1"/><rect x="915" y="360" width="1" height="1"/><rect x="918" y="360" width="1" height="1"/><rect x="921" y="360" width="1" height="1"/><rect x="924" y="360" width="1" height="1"/><rect x="927" y="360" width="1" height="1"/><rect x="930" y="360" width="1" height="1"/><rect x="933" y="360" width="1" height="1"/><rect x="936" y="360" width="1" height="1"/><rect x="939" y="360" width="1" height="1"/><rect x="942" y="360" width="1" height="1"/><rect x="945" y="360" width="1" height="1"/><rect x="948" y="360" width="1" height="1"/><rect x="951" y="360" width="1" height="1"/><rect x="954" y="360" width="1" height="1"/><rect x="957" y="360" width="1" height="1"/><rect x="960" y="360" width="1" height="1"/><rect x="963" y="360" width="1" height="1"/><rect x="966" y="360" width="1" height="1"/><rect x="969" y="360" width="1" height="1"/><rect x="972" y="360" width="1" height="1"/><rect x="975" y="360" width="1" height="1"/><rect x="978" y="360" width="1" height="1"/><rect x="981" y="360" width="1" height="1"/><rect x="984" y="360" width="1" height="1"/><rect x="987" y="360" width="1" height="1"/><rect x="990" y="360" width="1" height="1"/><rect x="993" y="360" width="1" height="1"/><rect x="996" y="360" width="1" height="1"/><rect x="999" y="360" width="1" height="1"/><rect x="1002" y="360" width="1" height="1"/><rect x="1005" y="360" width="1" height="1"/><rect x="1008" y="360" width="1" height="1"/><rect x="1011" y="360" width="1" height="1"/><rect x="1014" y="360" width="1" height="1"/><rect x="1017" y="360" width="1" height="1"/><rect x="1020" y="360" width="1" height="1"/><rect x="1023" y="360" width="1" height="1"/><rect x="1026" y="360" width="1" height="1"/></g>
</g>
<path d="M12,463 L14.77,460.8 L23.83,472.8 L32.89,458.2 L41.95,429.8 L51.02,446.8 L60.08,422.9 L69.14,438.8 L78.2,418.6 L87.26,414.7 L96.32,442.4 L105.38,449.7 L114.45,468.4 L123.51,453.6 L132.57,475.3 L141.63,486.1 L150.69,502.9 L159.75,504.8 L168.81,517.5 L177.88,522.5 L186.94,517.5 L196.0,502.2 L205.06,492.9 L214.12,507.7 L223.18,515.6 L232.25,519.6 L241.31,532.2 L250.37,525.4 L259.43,513.4 L268.49,519.6 L277.55,525 L286.61,530.1 L295.68,529 L304.74,532.1 L313.8,535.4 L322.86,543.4 L331.92,537.9 L340.98,537.3 L350.05,539.3 L359.11,550.1 L368.17,550.9 L377.23,546.2 L386.29,552.3 L395.35,554.9 L404.41,556.6 L413.48,554.9 L422.54,549.6 L431.6,545.3 L440.66,540.3 L449.72,519.3 L458.78,518.2 L467.84,528.5 L476.91,523.2 L485.97,530.7 L495.03,535 L504.09,539.3 L513.15,543.1 L522.21,544.4 L531.28,533.6 L540.34,536.2 L549.4,525.8 L558.46,531.8 L567.52,538.8 L576.58,534.4 L585.64,526 L594.71,527.5 L603.77,515.3 L612.83,523.2 L621.89,505.6 L630.95,526.4 L640.01,530 L649.07,531.1 L658.14,536.5 L667.2,541.2 L676.26,545.2 L685.32,547 L694.38,548.8 L703.44,550.9 L712.51,548.7 L721.57,548.4 L730.63,545.5 L739.69,540.2 L748.75,540.5 L757.81,537.3 L766.87,545.5 L775.94,536.5 L785.0,538.3 L794.06,532.6 L803.12,531.4 L812.18,531.6 L821.24,530.4 L830.3,524.6 L839.37,535.4 L848.43,527.2 L857.49,536.2 L866.55,544.1 L875.61,541.9 L884.67,539 L893.74,518.9 L902.8,530.4 L911.86,536.2 L920.92,542.9 L929.98,549.1 L939.04,556 L948.1,552.4 L957.17,555.6 L966.23,537.6 L975.29,532.6 L984.35,532.3 L993.41,517.4 L1002.47,529 L1011.53,526.8 L1011.53,451.5 L12,451.5 Z" fill="url(#ob)" clip-path="url(#c70)"/>
<line x1="12" y1="451.5" x2="1027" y2="451.5" stroke="#787b86" stroke-width="1" stroke-dasharray="5 6" shape-rendering="crispEdges"/>
<line x1="12" y1="506.5" x2="1027" y2="506.5" stroke="#b7b8c0" stroke-width="1" stroke-dasharray="5 6" shape-rendering="crispEdges"/>
<line x1="12" y1="561.5" x2="1027" y2="561.5" stroke="#787b86" stroke-width="1" stroke-dasharray="5 6" shape-rendering="crispEdges"/>
<polyline points="12,464.4 14.77,465 23.83,467.6 32.89,469.4 41.95,468.4 51.02,468.7 60.08,466.1 69.14,462.7 78.2,458.6 87.26,454 96.32,452.2 105.38,449.6 114.45,447.6 123.51,446 132.57,446.4 141.63,448.3 150.69,450.7 159.75,453.8 168.81,460.3 177.88,465.6 186.94,472.8 196.0,477.7 205.06,482.5 214.12,489.4 223.18,494 232.25,499.3 241.31,503.4 250.37,508.8 259.43,511.6 268.49,514.2 277.55,515.6 286.61,517.4 295.68,518.2 304.74,518.6 313.8,520 322.86,522.9 331.92,526.4 340.98,528.5 350.05,530.4 359.11,532.6 368.17,533.7 377.23,535 386.29,537.6 395.35,540.5 404.41,542.9 413.48,544.8 422.54,546.2 431.6,547 440.66,547.3 449.72,545.2 458.78,544.1 467.84,543.1 476.91,542.2 485.97,540.8 495.03,539.5 504.09,539 513.15,538.3 522.21,537.6 531.28,535.9 540.34,534.7 549.4,533 558.46,532.1 567.52,531.8 576.58,533 585.64,533.6 594.71,533.6 603.77,532.9 612.83,532.3 621.89,530.4 630.95,529.4 640.01,528.2 649.07,527.5 658.14,527.5 667.2,528 676.26,529.4 685.32,530.4 694.38,531.4 703.44,532.6 712.51,534.3 721.57,535.9 730.63,537.8 739.69,539.2 748.75,540.9 757.81,542.2 766.87,543.1 775.94,543.7 785.0,543.7 794.06,543.1 803.12,542.2 812.18,541.2 821.24,539.8 830.3,538 839.37,536.9 848.43,535.4 857.49,535 866.55,535.2 875.61,535.4 884.67,535.4 893.74,533.7 902.8,533 911.86,533 920.92,533.7 929.98,534.7 939.04,536.6 948.1,538.3 957.17,540.5 966.23,540.5 975.29,540.9 984.35,540.5 993.41,539 1002.47,537.9 1011.53,537.1" fill="none" stroke="#fdd835" stroke-width="1.3" stroke-linejoin="round" clip-path="url(#cr)"/>
<polyline points="12,463 14.77,460.8 23.83,472.8 32.89,458.2 41.95,429.8 51.02,446.8 60.08,422.9 69.14,438.8 78.2,418.6 87.26,414.7 96.32,442.4 105.38,449.7 114.45,468.4 123.51,453.6 132.57,475.3 141.63,486.1 150.69,502.9 159.75,504.8 168.81,517.5 177.88,522.5 186.94,517.5 196.0,502.2 205.06,492.9 214.12,507.7 223.18,515.6 232.25,519.6 241.31,532.2 250.37,525.4 259.43,513.4 268.49,519.6 277.55,525 286.61,530.1 295.68,529 304.74,532.1 313.8,535.4 322.86,543.4 331.92,537.9 340.98,537.3 350.05,539.3 359.11,550.1 368.17,550.9 377.23,546.2 386.29,552.3 395.35,554.9 404.41,556.6 413.48,554.9 422.54,549.6 431.6,545.3 440.66,540.3 449.72,519.3 458.78,518.2 467.84,528.5 476.91,523.2 485.97,530.7 495.03,535 504.09,539.3 513.15,543.1 522.21,544.4 531.28,533.6 540.34,536.2 549.4,525.8 558.46,531.8 567.52,538.8 576.58,534.4 585.64,526 594.71,527.5 603.77,515.3 612.83,523.2 621.89,505.6 630.95,526.4 640.01,530 649.07,531.1 658.14,536.5 667.2,541.2 676.26,545.2 685.32,547 694.38,548.8 703.44,550.9 712.51,548.7 721.57,548.4 730.63,545.5 739.69,540.2 748.75,540.5 757.81,537.3 766.87,545.5 775.94,536.5 785.0,538.3 794.06,532.6 803.12,531.4 812.18,531.6 821.24,530.4 830.3,524.6 839.37,535.4 848.43,527.2 857.49,536.2 866.55,544.1 875.61,541.9 884.67,539 893.74,518.9 902.8,530.4 911.86,536.2 920.92,542.9 929.98,549.1 939.04,556 948.1,552.4 957.17,555.6 966.23,537.6 975.29,532.6 984.35,532.3 993.41,517.4 1002.47,529 1011.53,526.8" fill="none" stroke="#7e57c2" stroke-width="1.3" stroke-linejoin="miter" clip-path="url(#cr)"/>
<g transform="translate(12,623) scale(0.662)" fill="#1a1a1a"><path d="M14 22H7V11H0V4h14v18zM28 22h-8l7.5-18h8L28 22z"/><circle cx="20" cy="8" r="4"/></g>
</svg>
<div id="t">
<span style="left:12px;top:10.41px;font-size:14px;color:#131722;letter-spacing:0.09px">Published on TradingView.com, Apr 14, 2025 12:49 UTC</span>
<span style="left:22px;top:43.41px;font-size:14px;color:#131722;letter-spacing:-0.15px">AI16Z / TETHER · 1D · CoinEx</span>
<span style="left:220.5px;top:43.41px;font-size:14px;color:#131722;transform:scaleX(0.82);transform-origin:0 0">O</span>
<span style="left:230.3px;top:43.41px;font-size:14px;color:#089981;letter-spacing:-0.2px;-webkit-text-stroke:0.12px currentColor">0.1340</span>
<span style="left:281.5px;top:43.41px;font-size:14px;color:#131722;transform:scaleX(0.85);transform-origin:0 0">H</span>
<span style="left:289.4px;top:43.41px;font-size:14px;color:#089981;;-webkit-text-stroke:0.12px currentColor">0.1419</span>
<span style="left:343px;top:43.41px;font-size:14px;color:#131722;">L</span>
<span style="left:350.3px;top:43.41px;font-size:14px;color:#089981;letter-spacing:-0.1px;-webkit-text-stroke:0.12px currentColor">0.1300</span>
<span style="left:401.8px;top:43.41px;font-size:14px;color:#131722;transform:scaleX(0.8);transform-origin:0 0">C</span>
<span style="left:409.8px;top:43.41px;font-size:14px;color:#089981;letter-spacing:-0.1px;-webkit-text-stroke:0.12px currentColor">0.1371</span>
<span style="left:463px;top:43.41px;font-size:14px;color:#089981;letter-spacing:-0.28px;-webkit-text-stroke:0.12px currentColor">+0.0030 (+2.24%)</span>
<span style="left:22px;top:63.91px;font-size:14px;color:#131722;">Vol · AI16Z</span>
<span style="left:99.5px;top:63.91px;font-size:14px;color:#26a69a;letter-spacing:-0.3px">274.15<span style="position:static;margin-left:3px;letter-spacing:0">K</span></span>
<span style="left:22px;top:84.91px;font-size:14px;color:#131722;letter-spacing:-0.06px">EMA (20, close)</span>
<span style="left:129.2px;top:84.91px;font-size:14px;color:#2962ff;letter-spacing:-0.08px">0.1514</span>
<span style="left:22.5px;top:406.01px;font-size:14px;color:#131722;letter-spacing:-0.08px">RSI (14, close)</span>
<span style="left:122.6px;top:406.01px;font-size:14px;color:#7e57c2;">42.50</span>
<span style="left:166.7px;top:406.01px;font-size:14px;color:#fdd835;">38.82</span>
<span style="left:1037px;top:62.91px;font-size:14px;color:#131722;letter-spacing:0.1px">2.5000</span>
<span style="left:1037px;top:124.91px;font-size:14px;color:#131722;letter-spacing:0.1px">2.0000</span>
<span style="left:1037px;top:185.91px;font-size:14px;color:#131722;letter-spacing:0.1px">1.5000</span>
<span style="left:1037px;top:246.91px;font-size:14px;color:#131722;letter-spacing:0.1px">1.0000</span>
<span style="left:1037px;top:308.91px;font-size:14px;color:#131722;letter-spacing:0.1px">0.5000</span>
<span style="left:1037px;top:416.41px;font-size:14px;color:#131722;letter-spacing:0.2px">80.00</span>
<span style="left:1037px;top:471.41px;font-size:14px;color:#131722;letter-spacing:0.2px">60.00</span>
<span style="left:28px;width:100px;text-align:center;top:586.1px;font-size:14px;font-weight:bold;color:#131722;letter-spacing:0.35px;-webkit-text-stroke:0">2025</span>
<span style="left:308.6px;width:100px;text-align:center;top:585.9px;font-size:14px;color:#131722;letter-spacing:-0.35px">Feb</span>
<span style="left:562.1px;width:100px;text-align:center;top:585.9px;font-size:14px;color:#131722;letter-spacing:-0.35px">Mar</span>
<span style="left:843.2px;width:100px;text-align:center;top:585.9px;font-size:14px;color:#131722;letter-spacing:-0.35px">Apr</span>
<div style="position:absolute;left:1028px;top:330px;width:58px;height:20px;background:#2962ff;border-radius:0 2px 2px 0"></div><span style="left:1037px;top:332.81px;font-size:14px;color:#fff;letter-spacing:0.1px">0.1514</span>
<div style="position:absolute;left:1028px;top:350px;width:58px;height:21px;background:#089981;border-radius:0 2px 2px 0"></div><span style="left:1037px;top:353.31px;font-size:14px;color:#fff;letter-spacing:0.1px">0.1371</span>
<div style="position:absolute;left:1028px;top:371px;width:68.5px;height:21px;background:#26a69a;border-radius:0 2px 2px 0"></div><span style="left:1037px;top:374.31px;font-size:14px;color:#fff;letter-spacing:0.3px">274.15K</span>
<div style="position:absolute;left:1028px;top:517px;width:50.5px;height:20px;background:#7e57c2;border-radius:0 2px 2px 0"></div><span style="left:1037px;top:519.81px;font-size:14px;color:#fff;letter-spacing:0.1px">42.50</span>
<div style="position:absolute;left:1028px;top:537px;width:50.5px;height:20.5px;background:#fdd835;border-radius:0 2px 2px 0"></div><span style="left:1037px;top:540.06px;font-size:14px;color:#131722;letter-spacing:0.1px">38.82</span>
<span style="left:40px;top:624.18px;font-size:15px;color:#1a1a1a;letter-spacing:0.1px">TradingView</span>
</div>
</div></body></html>
